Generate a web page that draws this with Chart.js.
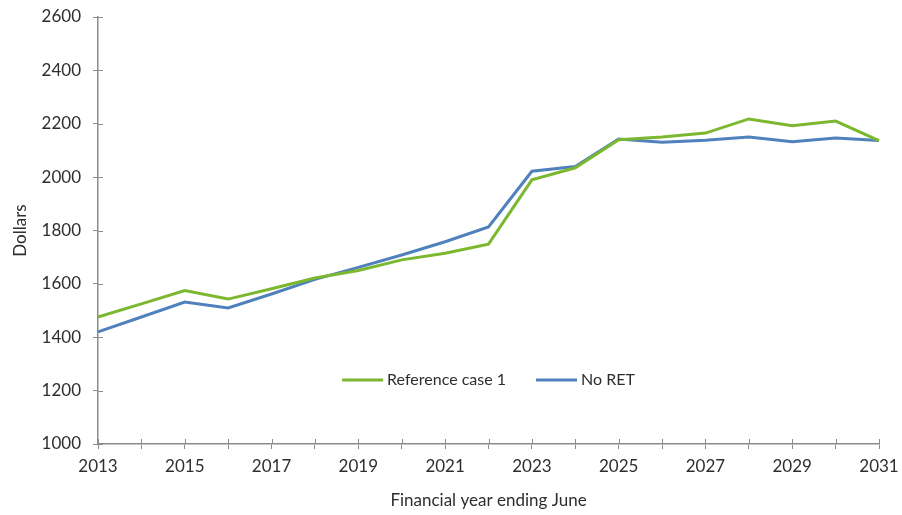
<!DOCTYPE html>
<html>
<head>
<meta charset="utf-8">
<script src="https://cdn.jsdelivr.net/npm/chart.js@4/dist/chart.umd.min.js"></script>
<style>
  html, body { margin: 0; padding: 0; background: #fff; }
  #wrap { width: 902px; height: 515px; }
</style>
</head>
<body>
<div id="wrap"><canvas id="chart" width="902" height="515"></canvas></div>
<script>
// values
const years = ['2013','2014','2015','2016','2017','2018','2019','2020','2021','2022',
               '2023','2024','2025','2026','2027','2028','2029','2030','2031'];
const referenceCase = [1476, 1525, 1575, 1543, 1582, 1622, 1650, 1690, 1715, 1749,
                       1990, 2035, 2140, 2150, 2165, 2218, 2193, 2210, 2137];
const noRet = [1420, 1476, 1532, 1510, 1562, 1617, 1662, 1708, 1758, 1813,
               2022, 2040, 2143, 2131, 2138, 2150, 2133, 2147, 2137];
const yTicks = [1000, 1200, 1400, 1600, 1800, 2000, 2200, 2400, 2600];

const FONT = 'Lato, "Open Sans", sans-serif';
const axisColor = '#8c8c8c';
const textColor = '#2e2e2e';

// legend drawn inside the plot area, centred horizontally
const innerLegend = {
    id: 'innerLegend',
    afterDraw(chart) {
        const ctx = chart.ctx;
        const area = chart.chartArea;
        const y = area.bottom - 64;
        const lineLen = 41, gap = 4, between = 30;
        ctx.save();
        ctx.font = '16px ' + FONT;
        const items = chart.data.datasets.map(ds => ({
            label: ds.label, color: ds.borderColor, w: ctx.measureText(ds.label).width
        }));
        let total = 0;
        items.forEach((it, i) => { total += lineLen + gap + it.w + (i ? between : 0); });
        let x = (area.left + area.right) / 2 - total / 2;
        items.forEach(it => {
            ctx.strokeStyle = it.color;
            ctx.lineWidth = 3;
            ctx.beginPath();
            ctx.moveTo(x, y);
            ctx.lineTo(x + lineLen, y);
            ctx.stroke();
            ctx.fillStyle = textColor;
            ctx.textBaseline = 'middle';
            ctx.fillText(it.label, x + lineLen + gap, y);
            x += lineLen + gap + it.w + between;
        });
        ctx.restore();
    }
};

// tick marks that cross the axis lines (Excel style)
const crossTicks = {
    id: 'crossTicks',
    afterDatasetsDraw(chart) {
        const ctx = chart.ctx;
        const xs = chart.scales.x, ys = chart.scales.y;
        ctx.save();
        ctx.strokeStyle = axisColor;
        ctx.lineWidth = 1;
        ctx.beginPath();
        years.forEach((_, i) => {
            const px = Math.round(xs.getPixelForValue(i)) + 0.5;
            ctx.moveTo(px, ys.bottom);
            ctx.lineTo(px, ys.bottom - 5);
        });
        yTicks.forEach(v => {
            const py = Math.round(ys.getPixelForValue(v)) + 0.5;
            ctx.moveTo(xs.left, py);
            ctx.lineTo(xs.left + 5, py);
        });
        ctx.stroke();
        ctx.restore();
    }
};

new Chart(document.getElementById('chart'), {
    type: 'line',
    data: {
        labels: years,
        datasets: [
            { label: 'Reference case 1', data: referenceCase, borderColor: '#7cb82f',
              borderWidth: 3, pointRadius: 0, tension: 0, fill: false },
            { label: 'No RET', data: noRet, borderColor: '#4f81bd',
              borderWidth: 3, pointRadius: 0, tension: 0, fill: false }
        ]
    },
    options: {
        responsive: false,
        animation: false,
        layout: { padding: { top: 17, right: 23, left: 0, bottom: 0 } },
        plugins: { legend: { display: false }, tooltip: { enabled: false } },
        scales: {
            x: {
                offset: false,
                grid: { drawOnChartArea: false, drawTicks: true, tickLength: 5, color: axisColor },
                border: { color: axisColor, width: 1.5 },
                ticks: {
                    autoSkip: false, maxRotation: 0, padding: 7,
                    color: textColor, font: { family: FONT, size: 17 },
                    callback: (v, i) => (i % 2 === 0 ? years[i] : '')
                },
                title: {
                    display: true, text: 'Financial year ending June', color: textColor,
                    font: { family: FONT, size: 17 }, padding: { top: 6 }
                },
                afterFit: s => { s.height = 71; s.paddingLeft = 0; s.paddingRight = 0; }
            },
            y: {
                min: 1000, max: 2600,
                afterBuildTicks: s => { s.ticks = yTicks.map(v => ({ value: v })); },
                grid: { drawOnChartArea: false, drawTicks: true, tickLength: 5, color: axisColor },
                border: { color: axisColor, width: 1.5 },
                ticks: {
                    padding: 12, color: textColor, font: { family: FONT, size: 17 },
                    callback: v => String(v)
                },
                title: {
                    display: true, text: 'Dollars', color: textColor,
                    font: { family: FONT, size: 17 }, padding: { top: 10 }
                },
                afterFit: s => { s.width = 98; s.paddingTop = 0; s.paddingBottom = 0; }
            }
        }
    },
    plugins: [innerLegend, crossTicks]
});
</script>
</body>
</html>
